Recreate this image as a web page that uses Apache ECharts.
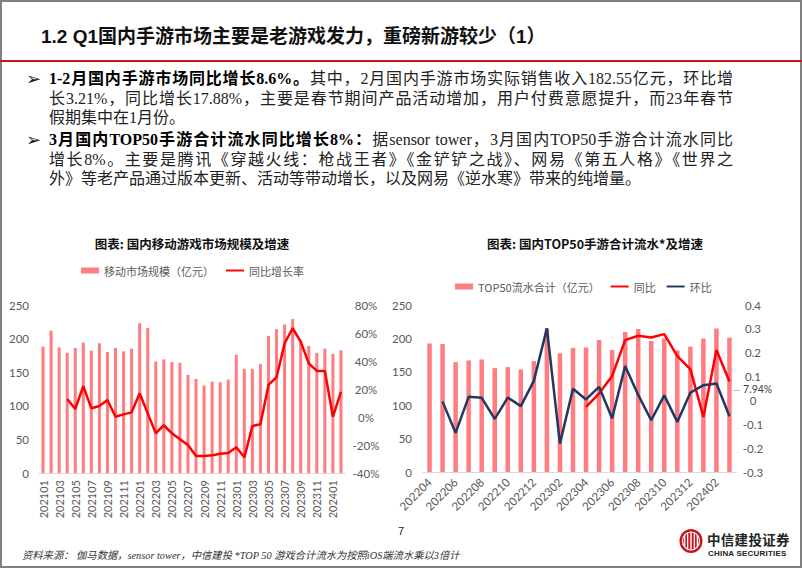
<!DOCTYPE html>
<html><head><meta charset="utf-8">
<script src="https://cdn.jsdelivr.net/npm/echarts/dist/echarts.min.js"></script>
<style>
html,body{margin:0;padding:0;background:#fff;}
#page{position:relative;width:802px;height:569px;overflow:hidden;background:#fff;}
#chart{position:absolute;left:0;top:0;width:802px;height:569px;}
#frame{position:absolute;left:0;top:0;width:798px;height:564px;border:2px solid #808080;pointer-events:none;}
#rule{position:absolute;left:0;top:60px;width:802px;height:2px;background:#c4161c;}
#title{position:absolute;left:41px;top:25px;font:bold 19px "Liberation Sans","Noto Sans CJK SC",sans-serif;color:#111;white-space:nowrap;line-height:24px;}
.ln{position:absolute;left:49px;height:20px;line-height:20px;font-size:16px;font-family:"Liberation Serif","Noto Sans CJK SC",serif;color:#222;white-space:nowrap;}
.full{width:684px;text-align:justify;text-align-last:justify;}
.ln b{font-weight:bold;color:#000;}
.bul{position:absolute;left:26px;font:18px "DejaVu Sans",sans-serif;line-height:20px;color:#222;}
#foot{position:absolute;left:22px;top:548px;font:italic 10.3px "Liberation Serif","Noto Sans CJK SC",serif;color:#333;white-space:nowrap;line-height:16px;}
#pno{position:absolute;left:398px;top:525px;font:11px "Liberation Sans",sans-serif;color:#222;}
#logo{position:absolute;left:679px;top:528px;}
#logo1{position:absolute;left:707px;top:532px;font:bold 13.5px "Noto Sans CJK SC",sans-serif;color:#222;white-space:nowrap;line-height:14px;letter-spacing:0.3px;}
#logo2{position:absolute;left:708px;top:549px;font:bold 8px "Liberation Sans",sans-serif;color:#222;white-space:nowrap;line-height:9px;letter-spacing:0.2px;}
</style></head>
<body>
<div id="page">
  <div id="chart"></div>
  <div id="frame"></div>
  <div id="rule"></div>
  <div id="title">1.2 Q1国内手游市场主要是老游戏发力，重磅新游较少（1）</div>
  <div class="bul" style="top:69px">➢</div>
  <div class="ln full" style="top:69px"><b>1-2月国内手游市场同比增长8.6%。</b>其中，2月国内手游市场实际销售收入182.55亿元，环比增</div>
  <div class="ln full" style="top:89px">长3.21%，同比增长17.88%，主要是春节期间产品活动增加，用户付费意愿提升，而23年春节</div>
  <div class="ln" style="top:108px">假期集中在1月份。</div>
  <div class="bul" style="top:130px">➢</div>
  <div class="ln full" style="top:130px"><b>3月国内TOP50手游合计流水同比增长8%：</b>据sensor tower，3月国内TOP50手游合计流水同比</div>
  <div class="ln full" style="top:150px">增长8%。主要是腾讯《穿越火线：枪战王者》《金铲铲之战》、网易《第五人格》《世界之</div>
  <div class="ln" style="top:169px">外》等老产品通过版本更新、活动等带动增长，以及网易《逆水寒》带来的纯增量。</div>
  <div id="pno">7</div>
  <div id="foot">资料来源： 伽马数据，sensor tower，中信建投 *TOP 50 游戏合计流水为按照iOS端流水乘以3倍计</div>
  <svg id="logo" width="26" height="28" viewBox="0 0 26 28">
    <ellipse cx="12" cy="13" rx="11.5" ry="12" fill="#c8161d"/>
    <ellipse cx="12" cy="13" rx="8.5" ry="9" fill="none" stroke="#fff" stroke-width="1.2"/>
    <rect x="5" y="7" width="1.3" height="12" fill="#fff"/>
    <rect x="8" y="5" width="1.3" height="16" fill="#fff"/>
    <rect x="11.3" y="4" width="1.4" height="18" fill="#fff"/>
    <rect x="14.7" y="5" width="1.3" height="16" fill="#fff"/>
    <rect x="17.7" y="7" width="1.3" height="12" fill="#fff"/>
  </svg>
  <div id="logo1">中信建投证券</div>
  <div id="logo2">CHINA SECURITIES</div>
</div>
<script>
// ---- Chart 1: 国内移动游戏市场规模及增速 ----
const months1 = ['202101','202102','202103','202104','202105','202106','202107','202108','202109','202110','202111','202112',
  '202201','202202','202203','202204','202205','202206','202207','202208','202209','202210','202211','202212',
  '202301','202302','202303','202304','202305','202306','202307','202308','202309','202310','202311','202312',
  '202401','202402'];
const marketSize = [188,212,187,179,186,194,182,193,180,186,181,185,
  223,216,166,169,165,164,146,140,130,136,135,139,
  176,155,155,162,204,214,221,229,198,189,179,185,
  177,182.55];
const marketYoY = [null,null,null,12.9,5.7,22.1,6.2,7.9,12.1,0.2,1.9,3.3,
  16.9,2.6,-11.6,-5.9,-11.6,-15.9,-20,-27.9,-27.9,-27.4,-26.2,-25.7,
  -21.6,-28.8,-6.4,-5.2,22.9,28.4,52.6,63.4,53.8,38.3,32.9,32.9,
  0.2,17.88];
const names1 = ['移动市场规模（亿元）','同比增长率'];
const leftTicks1 = {min:0, max:250, interval:50};
const rightTicks1 = {min:-40, max:80, interval:20};

// ---- Chart 2: 国内TOP50手游合计流水及增速 ----
const months2 = ['202204','202205','202206','202207','202208','202209','202210','202211','202212',
  '202301','202302','202303','202304','202305','202306','202307','202308','202309','202310','202311','202312',
  '202401','202402','202403'];
const top50 = [192.5,191.5,164.5,167,168.5,155.5,157,153.5,166,
  215,177.5,185.5,186.5,197.5,182.5,209.5,214,196,200,182,187.5,
  200,215,201];
const top50YoY = [null,null,null,null,null,null,null,null,null,
  null,null,null,-0.027,0.029,0.102,0.253,0.271,0.264,0.278,0.186,0.131,
  -0.069,0.211,0.0794];
const top50MoM = [null,-0.005,-0.136,0.015,0.011,-0.077,0.012,-0.024,0.082,
  0.302,-0.181,0.049,0.004,0.057,-0.075,0.144,0.023,-0.083,0.021,-0.09,0.032,
  0.064,0.071,-0.066];
const names2 = ['TOP50流水合计（亿元）','同比','环比'];
const leftTicks2 = {min:0, max:250, interval:50};
const rightTicks2 = {min:-0.3, max:0.4, interval:0.1};

const chartTitles = ['图表: 国内移动游戏市场规模及增速','图表: 国内TOP50手游合计流水*及增速'];

const BAR = '#FF7C80', RED = '#FF0000', NAVY = '#1F3864', TXT = '#595959';
const AXF = 'Lato, "Noto Sans", sans-serif';
const LINE_ICON = 'path://M0,0 H24 V2.6 H0 Z';

function lastLabel(arr, label){
  return arr.map((v,i)=> i===arr.length-1 ? {value:v, label:Object.assign({show:true, color:'#404040', fontSize:11, fontFamily:AXF}, label)} : v);
}

const chart = echarts.init(document.getElementById('chart'), null, {renderer:'svg'});
const yAxisBase = {type:'value', splitLine:{show:false}, axisLine:{show:false}, axisTick:{show:false},
  axisLabel:{color:TXT, fontSize:11.5, fontFamily:AXF}};
const legText = {color:TXT, fontSize:11, fontFamily:'"Noto Sans CJK SC"'};

chart.setOption({
  animation:false,
  graphic:[
    {type:'text', x:192, y:243, style:{text:chartTitles[0], textAlign:'center', textVerticalAlign:'middle', font:'bold 12.5px "Noto Sans CJK SC"', fill:'#111'}},
    {type:'text', x:595, y:243, style:{text:chartTitles[1], textAlign:'center', textVerticalAlign:'middle', font:'bold 12.5px "Noto Sans CJK SC"', fill:'#111'}}
  ],
  legend:[
    {left:76, top:260, itemWidth:18, itemHeight:6, itemGap:12, textStyle:legText,
     data:[{name:names1[0], icon:'rect'}, {name:names1[1], icon:LINE_ICON}]},
    {left:450, top:276, itemWidth:18, itemHeight:6, itemGap:11, textStyle:legText,
     data:[{name:names2[0], icon:'rect'}, {name:names2[1], icon:LINE_ICON}, {name:names2[2], icon:LINE_ICON}]}
  ],
  grid:[
    {left:39, top:305, width:306, height:168},
    {left:423, top:305, width:313, height:167}
  ],
  xAxis:[
    {type:'category', gridIndex:0, data:months1, axisTick:{show:false}, axisLine:{lineStyle:{color:'#D9D9D9'}},
     axisLabel:{rotate:90, interval:1, color:TXT, fontSize:11, fontFamily:AXF, margin:7}},
    {type:'category', gridIndex:1, data:months2, axisTick:{show:false}, axisLine:{lineStyle:{color:'#D9D9D9'}},
     axisLabel:{rotate:45, interval:1, color:TXT, fontSize:11.5, fontFamily:AXF, margin:8}}
  ],
  yAxis:[
    Object.assign({}, yAxisBase, {gridIndex:0, position:'left'}, leftTicks1, {axisLabel:Object.assign({}, yAxisBase.axisLabel, {margin:10})}),
    Object.assign({}, yAxisBase, {gridIndex:0, position:'right'}, rightTicks1,
      {axisLabel:Object.assign({}, yAxisBase.axisLabel, {margin:21, align:'center', formatter:'{value}%'})}),
    Object.assign({}, yAxisBase, {gridIndex:1, position:'left'}, leftTicks2, {axisLabel:Object.assign({}, yAxisBase.axisLabel, {margin:11})}),
    Object.assign({}, yAxisBase, {gridIndex:1, position:'right'}, rightTicks2,
      {axisLabel:Object.assign({}, yAxisBase.axisLabel, {margin:17, align:'center', formatter:v=>String(Math.round(v*10)/10)})})
  ],
  series:[
    {name:names1[0], type:'bar', xAxisIndex:0, yAxisIndex:0, data:marketSize, barWidth:3, itemStyle:{color:BAR}},
    {name:names1[1], type:'line', xAxisIndex:0, yAxisIndex:1, symbol:'none', showAllSymbol:true, lineStyle:{color:RED, width:2.5}, itemStyle:{color:RED},
     data:lastLabel(marketYoY, {formatter:'17.88%', position:'right', distance:4, offset:[0,6]})},
    {name:names2[0], type:'bar', xAxisIndex:1, yAxisIndex:2, data:top50, barWidth:4.5, itemStyle:{color:BAR}},
    {name:names2[1], type:'line', xAxisIndex:1, yAxisIndex:3, symbol:'none', showAllSymbol:true, clip:false,
     lineStyle:{color:RED, width:2.5}, itemStyle:{color:RED}, data:top50YoY,
     endLabel:{show:true, formatter:'{l|—} 7.94%', distance:3, offset:[0,8], color:'#404040', fontSize:10.5, fontFamily:AXF,
       rich:{l:{color:'#A6A6A6', fontSize:10, fontFamily:AXF}}}},
    {name:names2[2], type:'line', xAxisIndex:1, yAxisIndex:3, symbol:'none', lineStyle:{color:NAVY, width:2.5}, itemStyle:{color:NAVY},
     data:top50MoM}
  ]
});
</script>
</body></html>
